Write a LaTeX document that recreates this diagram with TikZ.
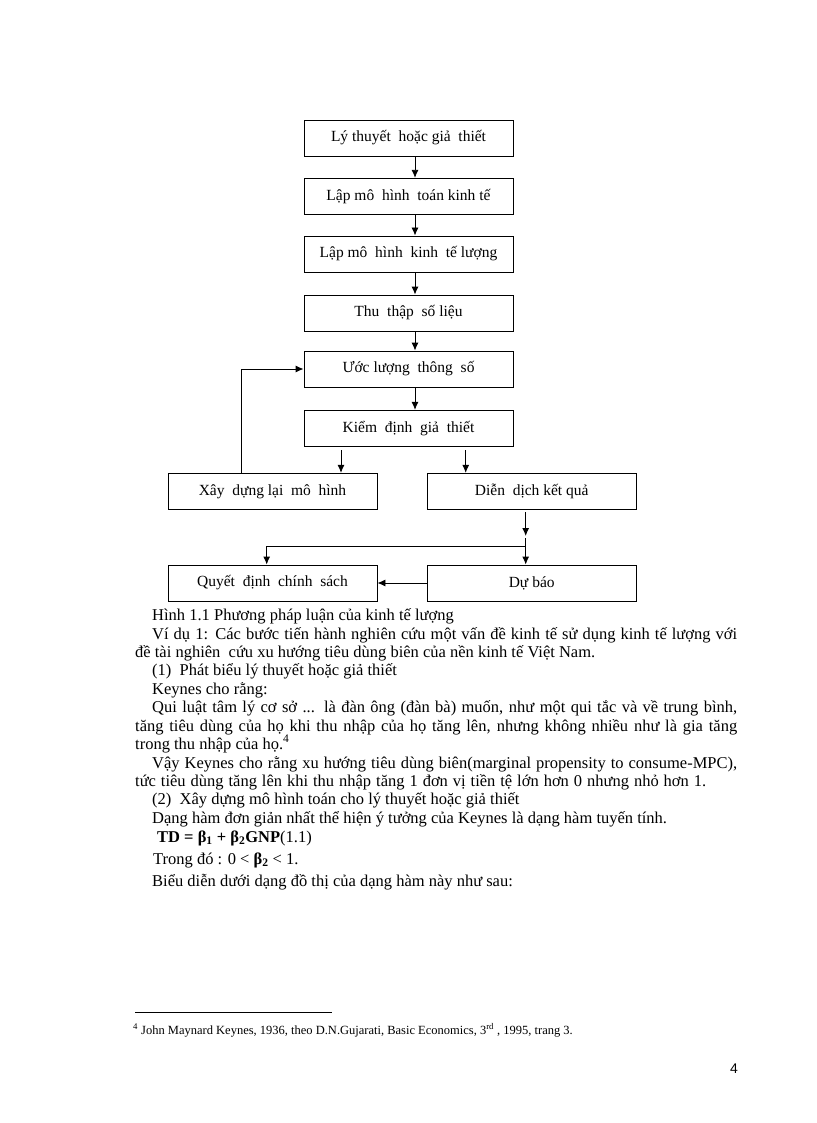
\documentclass[tikz,border=0pt]{standalone}
\usepackage{fontspec}
\setmainfont{Liberation Serif}
\newfontfamily\pagenofont{Liberation Sans}
\usetikzlibrary{arrows.meta}

\begin{document}
\begin{tikzpicture}[x=1pt, y=-1pt, >={Latex[length=8pt,width=7pt]},
  every node/.style={font=\fontsize{16.5}{19}\selectfont},
  box/.style={draw, line width=0.9pt, minimum width=209pt, minimum height=36pt, inner sep=0pt,
    font=\fontsize{15.5}{18}\selectfont},
  line/.style={anchor=base west, inner sep=0pt},
  link/.style={->, line width=0.9pt}]

  % 0. trang giấy
  \fill[white] (0,0) rectangle (816,1123);
  \useasboundingbox (0,0) rectangle (816,1123);

  % 1. các khối của sơ đồ
  \node[box] (lythuyet) at (408.5,138) {Lý thuyết\ \ hoặc giả\ \ thiết};
  \node[box] (motoan)   at (408.5,196.3) {Lập mô\ \ hình\ \ toán kinh tế};
  \node[box] (mokte)    at (408.5,254) {Lập mô\ \ hình\ \ kinh\ \ tế lượng};
  \node[box] (solieu)   at (408.5,313) {Thu\ \ thập\ \ số liệu};
  \node[box] (uocluong) at (408.5,369) {Ước lượng\ \ thông\ \ số};
  \node[box] (kiemdinh) at (408.5,428.3) {Kiểm\ \ định\ \ giả\ \ thiết};
  \node[box] (xaydung)  at (272.5,491.3) {Xây\ \ dựng lại\ \ mô\ \ hình};
  \node[box] (diendich) at (531.7,491.3) {Diễn\ \ dịch kết quả};
  \node[box] (quyetdinh) at (272.5,583) {Quyết\ \ định\ \ chính\ \ sách};
  \node[box] (dubao)    at (531.7,583) {Dự báo};

  % 2. mũi tên
  \coordinate (col) at (415,0);
  \foreach \a/\b in {lythuyet/motoan, motoan/mokte, mokte/solieu, solieu/uocluong, uocluong/kiemdinh}
    \draw[link] (\a.south -| col) -- (\b.north -| col);

  % vòng lặp: xây dựng lại -> ước lượng
  \coordinate (loop) at (241.7,369);
  \draw[link] (xaydung.north -| loop) -- (loop) -- (uocluong.west);

  % kiểm định -> hai nhánh
  \coordinate (s1) at (341,450);
  \coordinate (s2) at (465.7,450);
  \draw[link] (s1) -- (s1 |- xaydung.north);
  \draw[link] (s2) -- (s2 |- diendich.north);

  % diễn dịch -> dự báo, quyết định
  \coordinate (d1) at (525.7,512);
  \coordinate (d2) at (525.7,536);
  \coordinate (d3) at (525.7,538);
  \coordinate (j) at (525.7,546);
  \coordinate (k) at (266.7,546);
  \draw[link] (d1) -- (d2);
  \draw[link] (d3) -- (d3 |- dubao.north);
  \draw[link] (j) -- (k) -- (k |- quyetdinh.north);
  \draw[link] (dubao.west) -- (quyetdinh.east);

  % 3. văn bản
  \node[line] (l1) at (152,620) {Hình 1.1 Phương pháp luận của kinh tế lượng};
  \node[line] (l2) at (152,639) {\makebox[585pt][s]{Ví dụ 1: Các bước tiến hành nghiên cứu một vấn đề kinh tế sử dụng kinh tế lượng với}};
  \node[line] (l3) at (135,657) {đề tài nghiên\ \ cứu xu hướng tiêu dùng biên của nền kinh tế Việt Nam.};
  \node[line] (l4) at (152,675) {(1)\ \ Phát biểu lý thuyết hoặc giả thiết};
  \node[line] (l5) at (152,694) {Keynes cho rằng:};
  \node[line] (l6) at (152,712) {\makebox[585pt][s]{Qui luật tâm lý cơ sở ... là đàn ông (đàn bà) muốn, như một qui tắc và về trung bình,}};
  \node[line] (l7) at (135,731) {\makebox[602pt][s]{tăng tiêu dùng của họ khi thu nhập của họ tăng lên, nhưng không nhiều như là gia tăng}};
  \node[line] (l8) at (135,749) {trong thu nhập của họ.\textsuperscript{4}};
  \node[line] (l9) at (152,768) {\makebox[585pt][s]{Vậy Keynes cho rằng xu hướng tiêu dùng biên(marginal propensity to consume-MPC),}};
  \node[line] (l10) at (135,786) {\makebox[571pt][s]{tức tiêu dùng tăng lên khi thu nhập tăng 1 đơn vị tiền tệ lớn hơn 0 nhưng nhỏ hơn 1.}};
  \node[line] (l11) at (152,804) {(2)\ \ Xây dựng mô hình toán cho lý thuyết hoặc giả thiết};
  \node[line] (l12) at (152,823) {Dạng hàm đơn giản nhất thể hiện ý tưởng của Keynes là dạng hàm tuyến tính.};
  \node[line] (l13) at (157,842) {\textbf{TD = β\textsubscript{1} + β\textsubscript{2}GNP}(1.1)};
  \node[line] (l14) at (153,864) {Trong đó : 0 < \textbf{β\textsubscript{2}} < 1.};
  \node[line] (l15) at (152,886) {Biểu diễn dưới dạng đồ thị của dạng hàm này như sau:};

  % 4. chú thích cuối trang
  \coordinate (fn) at (135,1012);
  \draw[line width=0.6pt] (fn) -- ++(197,0);
  \node[line, font=\fontsize{12.5}{15}\selectfont] (note) at (133,1034)
    {\textsuperscript{4} John Maynard Keynes, 1936, theo D.N.Gujarati, Basic Economics, 3\textsuperscript{rd} , 1995, trang 3.};
  \node[line, font=\pagenofont\fontsize{14}{16}\selectfont] (pageno) at (730,1073) {4};

\end{tikzpicture}
\end{document}
